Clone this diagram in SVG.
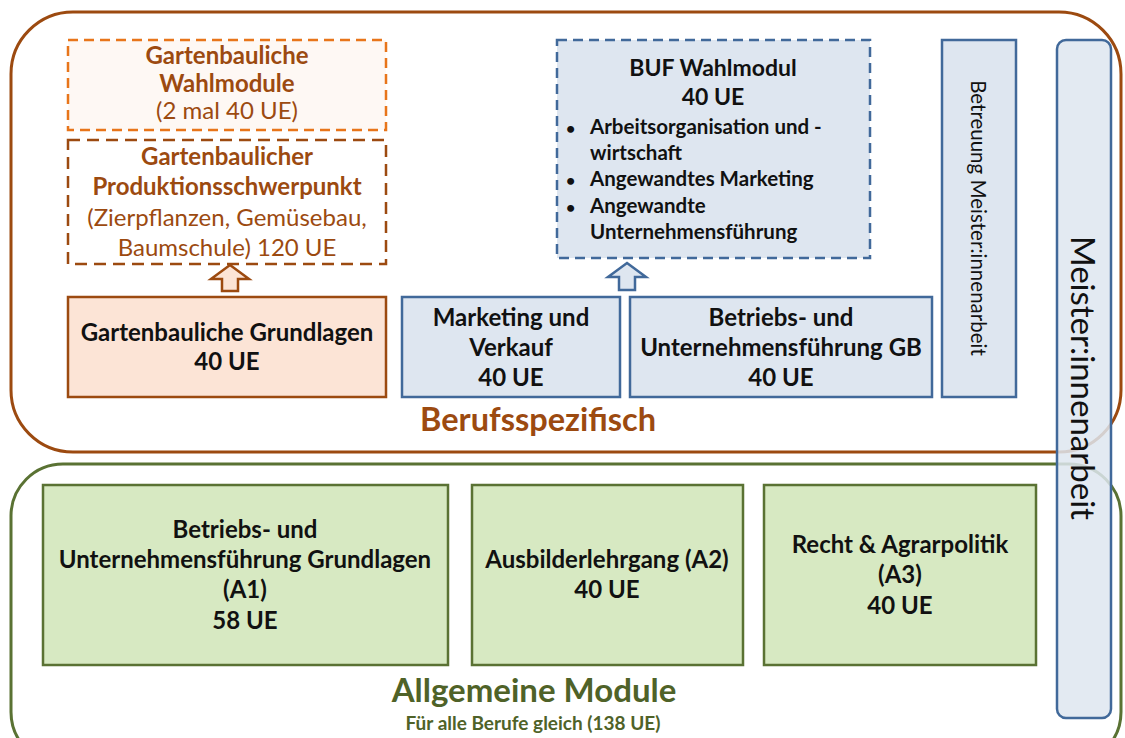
<svg xmlns="http://www.w3.org/2000/svg" width="1125" height="738" viewBox="0 0 1125 738">
<style>
text{font-family:Lato,"Liberation Sans",sans-serif;text-anchor:middle}
.b{font-weight:bold}
.blk{fill:#111}
.br{fill:#9C4A10}
.gr{fill:#4F6228}
.orgBox{fill:#FCE4D6;stroke:#9C4A10;stroke-width:2.5}
.bluBox{fill:#DEE6F0;stroke:#41699A;stroke-width:2.5}
.grnBox{fill:#D7E9C2;stroke:#5A7233;stroke-width:2.5}
.t20{font-size:24px}
.s{text-anchor:start}
</style>
<rect id="berufsspezifisch-frame" x="11" y="12" width="1110" height="440" rx="62" fill="none" stroke="#9C4A10" stroke-width="3"/>
<rect id="allgemeine-frame" x="11" y="464" width="1110" height="300" rx="52" fill="none" stroke="#5A7233" stroke-width="3"/>

<g id="gb-wahlmodule">
<rect x="68" y="40" width="318" height="90" fill="#FEF8F4" stroke="#E8751A" stroke-width="2.5" stroke-dasharray="10 6"/>
<text class="b br t20" x="227" y="64">Gartenbauliche</text>
<text class="b br t20" x="227" y="92">Wahlmodule</text>
<text class="br t20" x="227" y="119">(2 mal 40 UE)</text>
</g>
<g id="gb-produktion">
<rect x="68" y="140" width="318" height="124" fill="#FFFFFF" stroke="#9C4A10" stroke-width="2.5" stroke-dasharray="12 7"/>
<text class="b br t20" x="227" y="165">Gartenbaulicher</text>
<text class="b br t20" x="227" y="195">Produktionsschwerpunkt</text>
<text class="br t20" x="227" y="226">(Zierpflanzen, Gemüsebau,</text>
<text class="br t20" x="227" y="256">Baumschule) 120 UE</text>
</g>
<g id="gb-grundlagen">
<rect class="orgBox" x="68" y="297" width="318" height="100"/>
<text class="b blk t20" x="227" y="341">Gartenbauliche Grundlagen</text>
<text class="b blk t20" x="227" y="370">40 UE</text>
</g>
<g id="buf-wahlmodul">
<rect x="557" y="40" width="313" height="218" fill="#DEE6F0" stroke="#41699A" stroke-width="2.5" stroke-dasharray="10 6"/>
<text class="b blk" font-size="23" x="713" y="76">BUF Wahlmodul</text>
<text class="b blk" font-size="23" x="713" y="105">40 UE</text>
<g class="b blk" font-size="20.5">
<text class="s" x="566" y="134" font-size="16">•</text>
<text class="s" x="590" y="134">Arbeitsorganisation und -</text>
<text class="s" x="590" y="160">wirtschaft</text>
<text class="s" x="566" y="186" font-size="16">•</text>
<text class="s" x="590" y="186">Angewandtes Marketing</text>
<text class="s" x="566" y="213" font-size="16">•</text>
<text class="s" x="590" y="213">Angewandte</text>
<text class="s" x="590" y="239">Unternehmensführung</text>
</g>
</g>
<g id="marketing">
<rect class="bluBox" x="402" y="297" width="218" height="100"/>
<text class="b blk t20" x="511" y="326">Marketing und</text>
<text class="b blk t20" x="511" y="356">Verkauf</text>
<text class="b blk t20" x="511" y="386">40 UE</text>
</g>
<g id="buf-gb">
<rect class="bluBox" x="630" y="297" width="302" height="100"/>
<text class="b blk t20" x="781" y="326">Betriebs- und</text>
<text class="b blk t20" x="781" y="356">Unternehmensführung GB</text>
<text class="b blk t20" x="781" y="386">40 UE</text>
</g>
<g id="betreuung">
<rect class="bluBox" x="942" y="40" width="74" height="357"/>
<text class="blk" font-size="20.5" x="979" y="218" dominant-baseline="central" transform="rotate(90 979 218)">Betreuung  Meister:innenarbeit</text>
</g>
<g id="meisterarbeit">
<rect x="1057" y="40" width="54" height="678" rx="9" fill="#DEE6F0" fill-opacity="0.85" stroke="#41699A" stroke-width="2.5"/>
<text class="blk" font-size="33" x="1084" y="378" dominant-baseline="central" transform="rotate(90 1084 378)">Meister:innenarbeit</text>
</g>

<g id="a1">
<rect class="grnBox" x="43" y="485" width="405" height="180"/>
<text class="b blk t20" x="245" y="538">Betriebs- und</text>
<text class="b blk t20" x="245" y="568">Unternehmensführung Grundlagen</text>
<text class="b blk t20" x="245" y="598">(A1)</text>
<text class="b blk t20" x="245" y="629">58 UE</text>
</g>
<g id="a2">
<rect class="grnBox" x="472" y="485" width="271" height="180"/>
<text class="b blk t20" x="607" y="568">Ausbilderlehrgang (A2)</text>
<text class="b blk t20" x="607" y="598">40 UE</text>
</g>
<g id="a3">
<rect class="grnBox" x="764" y="485" width="272" height="180"/>
<text class="b blk t20" x="900" y="553">Recht &amp; Agrarpolitik</text>
<text class="b blk t20" x="900" y="583">(A3)</text>
<text class="b blk t20" x="900" y="614">40 UE</text>
</g>

<text class="b br" font-size="32.5" x="538" y="431">Berufsspezifisch</text>
<text class="b gr" font-size="33" x="534" y="702">Allgemeine Module</text>
<text class="b gr" font-size="19" x="533" y="730">Für alle Berufe gleich (138 UE)</text>

<g id="connectors">
<polygon points="230,265 249,279 238,279 238,291 222,291 222,279 211,279" fill="#FCE4D6" stroke="#9C4A10" stroke-width="2.5" stroke-linejoin="miter"/>
<polygon points="627,263 646,277 635,277 635,290 619,290 619,277 608,277" fill="#DEE6F0" stroke="#41699A" stroke-width="2.5" stroke-linejoin="miter"/>
</g>
</svg>
